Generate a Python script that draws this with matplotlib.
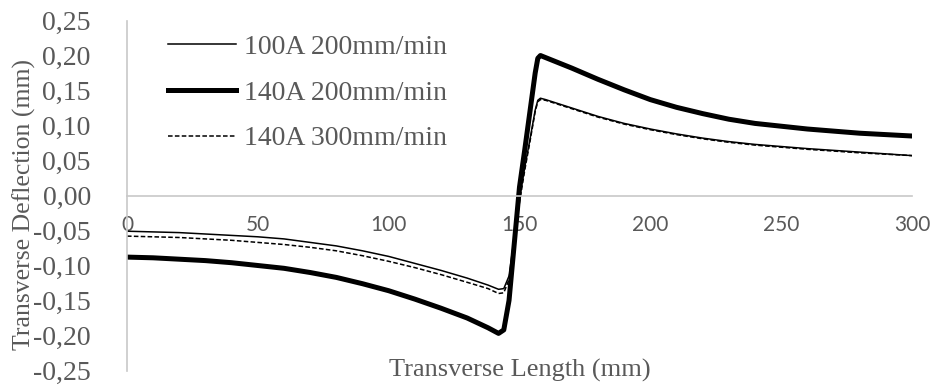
"""Transverse deflection along the transverse length for three weld settings."""

import matplotlib
matplotlib.use("Agg")
import matplotlib.pyplot as plt
from matplotlib.ticker import FuncFormatter, MultipleLocator


# data
x_mm = [0, 10, 20, 30, 40, 50, 60, 70, 80, 90, 100, 110, 120, 130, 138,
        142, 144, 146, 150, 152, 154, 156, 157, 158, 160, 170, 180, 190,
        200, 210, 220, 230, 240, 260, 280, 300]

defl_100a_200 = [-0.051, -0.052, -0.053, -0.055, -0.057, -0.059, -0.062,
                 -0.067, -0.072, -0.079, -0.087, -0.097, -0.107, -0.118,
                 -0.128, -0.134, -0.133, -0.115, -0.005, 0.040, 0.080,
                 0.122, 0.136, 0.139, 0.137, 0.125, 0.113, 0.103, 0.095,
                 0.088, 0.082, 0.077, 0.073, 0.067, 0.062, 0.057]

defl_140a_200 = [-0.088, -0.089, -0.091, -0.093, -0.096, -0.100, -0.104,
                 -0.110, -0.117, -0.126, -0.136, -0.148, -0.161, -0.175,
                 -0.189, -0.197, -0.192, -0.150, 0.012, 0.065, 0.120,
                 0.175, 0.196, 0.200, 0.197, 0.182, 0.166, 0.151, 0.137,
                 0.126, 0.117, 0.109, 0.103, 0.095, 0.089, 0.085]

defl_140a_300 = [-0.058, -0.059, -0.060, -0.062, -0.064, -0.067, -0.070,
                 -0.074, -0.079, -0.086, -0.094, -0.103, -0.113, -0.124,
                 -0.133, -0.140, -0.139, -0.120, -0.010, 0.036, 0.077,
                 0.120, 0.134, 0.137, 0.136, 0.124, 0.112, 0.102, 0.094,
                 0.087, 0.081, 0.076, 0.072, 0.066, 0.061, 0.057]

labels = ["100A 200mm/min", "140A 200mm/min", "140A 300mm/min"]

TEXT_GREY = "#595959"
AXIS_GREY = "#c8c8c8"
SERIF = "Liberation Serif"


def main() -> None:
    fig = plt.figure(figsize=(9.35, 3.9), dpi=100)
    ax = fig.add_axes([0.1358, 0.05, 0.8396, 0.8974])

    ax.plot(x_mm, defl_100a_200, color="black", lw=1.1, label=labels[0])
    ax.plot(x_mm, defl_140a_200, color="black", lw=3.6, label=labels[1])
    ax.plot(x_mm, defl_140a_300, color="black", lw=1.1,
            linestyle=(0, (3, 1.5)), label=labels[2])

    ax.set_xlim(0, 300)
    ax.set_ylim(-0.25, 0.25)
    ax.xaxis.set_major_locator(MultipleLocator(50))
    ax.yaxis.set_major_locator(MultipleLocator(0.05))
    ax.yaxis.set_major_formatter(
        FuncFormatter(lambda v, _: f"{v:.2f}".replace(".", ",").replace("-0,00", "0,00"))
    )

    for side in ("top", "right"):
        ax.spines[side].set_visible(False)
    ax.spines["bottom"].set_position(("data", 0))
    for side in ("left", "bottom"):
        ax.spines[side].set_color(AXIS_GREY)
        ax.spines[side].set_linewidth(1.2)

    ax.tick_params(axis="both", length=0)
    ax.tick_params(axis="y", pad=26, labelcolor=TEXT_GREY)
    ax.tick_params(axis="x", pad=14, labelcolor=TEXT_GREY)
    for lab in ax.get_yticklabels():
        lab.set_fontfamily(SERIF)
        lab.set_fontsize(20)
    for lab in ax.get_xticklabels():
        lab.set_fontfamily("Lato")
        lab.set_fontsize(15)

    fig.text(24 / 935, 1 - 205 / 390, "Transverse Deflection (mm)",
             rotation=90, ha="center", va="center", fontfamily=SERIF,
             fontsize=18.5, color=TEXT_GREY)
    ax.text(0.5, 0.0, "Transverse Length (mm)", transform=ax.transAxes,
            ha="center", va="center", fontfamily=SERIF, fontsize=19,
            color=TEXT_GREY)

    legend = ax.legend(loc="upper left", bbox_to_anchor=(0.052, 0.96),
                       frameon=False, borderpad=0, borderaxespad=0,
                       handlelength=2.45, handletextpad=0.3,
                       labelspacing=0.73,
                       prop={"family": SERIF, "size": 20})
    for text in legend.get_texts():
        text.set_color(TEXT_GREY)

    fig.savefig("out.png", dpi=100)
    plt.close(fig)


if __name__ == "__main__":
    main()
